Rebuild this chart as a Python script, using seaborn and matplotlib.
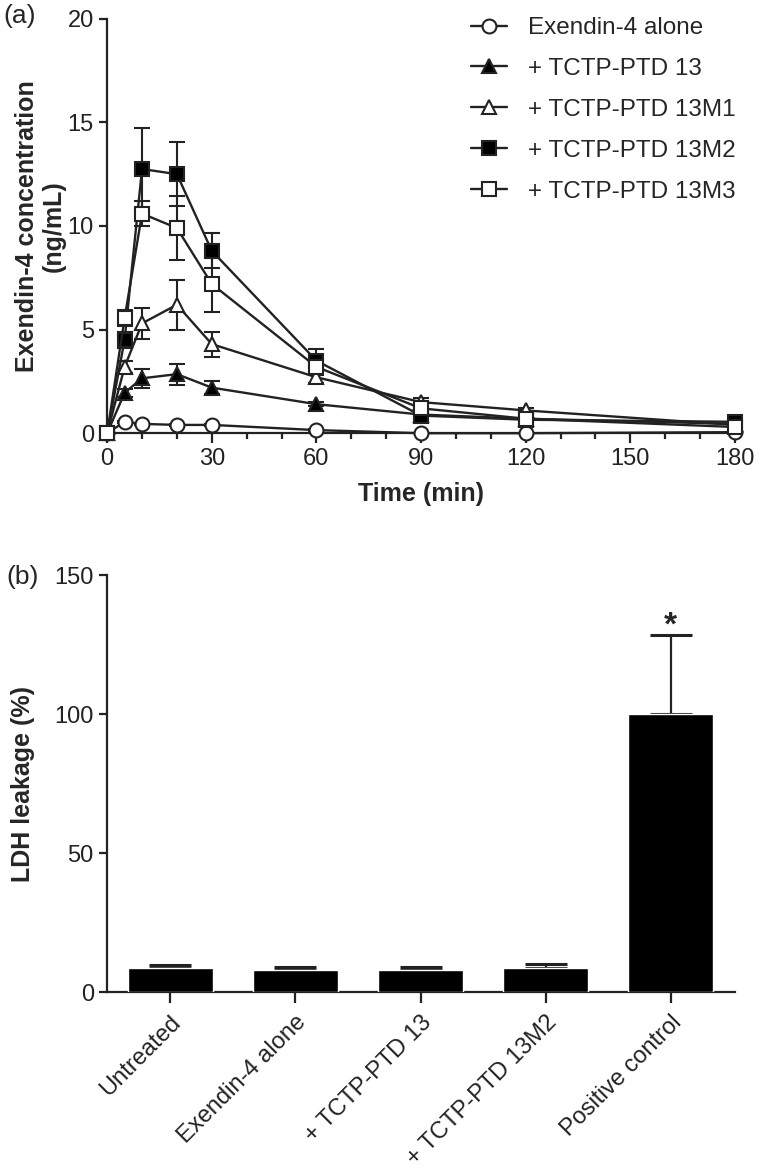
"""
Exendin-4 permeation with TCTP-PTD peptides (a) and LDH leakage (b).
"""

import numpy as np
import pandas as pd
import matplotlib
matplotlib.use('Agg')
import matplotlib.pyplot as plt
import seaborn as sns

# ── data ─────────────────────────────────────────────────────────────────────
TIME = [0, 5, 10, 20, 30, 60, 90, 120, 180]

ALONE     = [0, 0.55, 0.45, 0.40, 0.40, 0.15, 0.0, 0.0, 0.05]
ALONE_ERR = [0, 0.05, 0.05, 0.05, 0.05, 0.05, 0.0, 0.0, 0.0]
PTD13     = [0, 1.95, 2.65, 2.85, 2.20, 1.40, 0.90, 0.70, 0.45]
PTD13_ERR = [0, 0.20, 0.45, 0.50, 0.30, 0.10, 0.05, 0.05, 0.05]
M1        = [0, 3.20, 5.30, 6.20, 4.30, 2.70, 1.50, 1.10, 0.40]
M1_ERR    = [0, 0.30, 0.75, 1.20, 0.60, 0.30, 0.20, 0.10, 0.05]
M2        = [0, 4.50, 12.75, 12.50, 8.80, 3.50, 0.85, 0.65, 0.55]
M2_ERR    = [0, 0.40, 2.00, 1.55, 0.85, 0.55, 0.10, 0.05, 0.05]
M3        = [0, 5.55, 10.60, 9.90, 7.20, 3.20, 1.20, 0.70, 0.30]
M3_ERR    = [0, 0.40, 0.60, 1.55, 1.35, 0.40, 0.10, 0.05, 0.05]

SERIES = ["Exendin-4 alone", "+ TCTP-PTD 13", "+ TCTP-PTD 13M1",
          "+ TCTP-PTD 13M2", "+ TCTP-PTD 13M3"]

LDH_GROUPS = ["Untreated", "Exendin-4 alone", "+ TCTP-PTD 13",
              "+ TCTP-PTD 13M2", "Positive control"]
LDH_MEAN = [8.6, 7.9, 7.9, 8.6, 100.0]
LDH_ERR  = [1.1, 1.1, 1.1, 1.4, 28.4]

sns.set_theme(style="ticks")
plt.rcParams.update({"font.family": ["Liberation Sans", "DejaVu Sans"],
                     "axes.linewidth": 1.6, "xtick.major.width": 1.6,
                     "ytick.major.width": 1.6, "xtick.minor.width": 1.6,
                     "xtick.major.size": 7, "ytick.major.size": 6,
                     "xtick.minor.size": 4.5, "axes.edgecolor": "#222222",
                     "xtick.color": "#222222", "ytick.color": "#222222",
                     "xtick.labelsize": 17, "ytick.labelsize": 17})

rows = []
for name, vals, errs in zip(SERIES, [ALONE, PTD13, M1, M2, M3],
                            [ALONE_ERR, PTD13_ERR, M1_ERR, M2_ERR, M3_ERR]):
    for t, v, e in zip(TIME, vals, errs):
        rows.append({"group": name, "time": t, "conc": v, "err": e})
df = pd.DataFrame(rows)

fig = plt.figure(figsize=(7.6, 11.74), dpi=100)

# ── panel (a): time course ───────────────────────────────────────────────────
ax = fig.add_axes([0.141, 0.631, 0.826, 0.353])
styles = {
    "Exendin-4 alone": ("o", "white"),
    "+ TCTP-PTD 13":   ("^", "black"),
    "+ TCTP-PTD 13M1": ("^", "white"),
    "+ TCTP-PTD 13M2": ("s", "black"),
    "+ TCTP-PTD 13M3": ("s", "white"),
}
for name in SERIES:
    sub = df[df["group"] == name]
    ax.errorbar(sub["time"], sub["conc"], yerr=sub["err"], fmt="none",
                ecolor="#222222", elinewidth=1.5, capsize=6, capthick=1.5,
                zorder=2, clip_on=False)
for name in SERIES:
    sub = df[df["group"] == name]
    mk, fc = styles[name]
    sns.lineplot(data=sub, x="time", y="conc", ax=ax, color="#222222",
                 marker=mk, markersize=10 if mk != "^" else 10.5,
                 markerfacecolor=fc, markeredgecolor="#222222",
                 markeredgewidth=1.5, linewidth=1.7, label=name,
                 zorder=3, clip_on=False)

ax.set_xlim(0, 180)
ax.set_ylim(0, 20)
ax.set_xticks([0, 30, 60, 90, 120, 150, 180])
ax.set_xticks(np.arange(0, 181, 10), minor=True)
ax.set_yticks([0, 5, 10, 15, 20])
ax.set_xlabel("Time (min)", fontsize=18, fontweight="bold", labelpad=9)
ax.set_ylabel("Exendin-4 concentration\n(ng/mL)", fontsize=18,
              fontweight="bold", linespacing=1.15)
ax.yaxis.set_label_coords(-0.066, 0.5)
sns.despine(ax=ax)
ax.legend(loc="upper right", bbox_to_anchor=(0.99, 1.0),
          bbox_transform=fig.transFigure, frameon=False, fontsize=17.5,
          handlelength=1.5, handletextpad=0.85, labelspacing=0.78,
          borderpad=0.2)

fig.text(0.004, 0.997, "(a)", fontsize=19, va="top")

# ── panel (b): LDH leakage ───────────────────────────────────────────────────
bx = fig.add_axes([0.1408, 0.155, 0.826, 0.3552])
ldh = pd.DataFrame({"group": LDH_GROUPS, "ldh": LDH_MEAN, "err": LDH_ERR})
sns.barplot(data=ldh, x="group", y="ldh", ax=bx, color="black",
            width=0.68, errorbar=None, saturation=1, zorder=3)
bx.errorbar(np.arange(len(LDH_GROUPS)), ldh["ldh"],
            yerr=[np.zeros(len(LDH_ERR)), ldh["err"]], fmt="none",
            ecolor="#222222", elinewidth=1.6, capsize=15, capthick=2.2, zorder=2)
bx.text(4, 131.5, "*", ha="center", va="center", fontsize=24,
        fontweight="bold")
bx.set_xlim(-0.504, 4.51)
bx.set_ylim(0, 150)
bx.set_yticks([0, 50, 100, 150])
bx.tick_params(axis="x", length=8, pad=6)
bx.set_xlabel("")
bx.set_ylabel("LDH leakage (%)", fontsize=18, fontweight="bold")
bx.yaxis.set_label_coords(-0.115, 0.5)
bx.set_xticks(range(len(LDH_GROUPS)))
bx.set_xticklabels(LDH_GROUPS, rotation=45, ha="right", rotation_mode="anchor",
                   fontsize=17)
sns.despine(ax=bx)

fig.text(0.008, 0.519, "(b)", fontsize=19, va="top")

fig.savefig("out.png", dpi=100)
